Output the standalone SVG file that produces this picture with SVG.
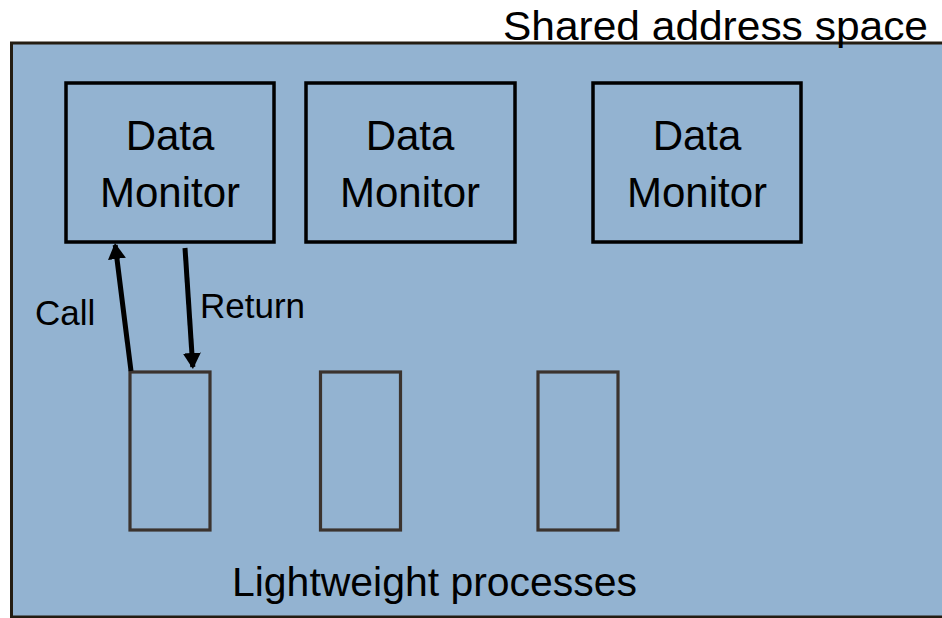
<svg xmlns="http://www.w3.org/2000/svg" width="942" height="618" viewBox="0 0 942 618">
<style>
.bg{fill:#ffffff}
.space{fill:#93b3d1;stroke:#241d12;stroke-width:3}
.mon{fill:none;stroke:#000;stroke-width:3.5}
.proc{fill:none;stroke:#3b332e;stroke-width:3.2}
.t{font-family:"Liberation Sans",Arial,sans-serif;fill:#000}
.big{font-size:40px}
.mid{font-size:42px;text-anchor:middle}
.sm{font-size:35px}
.conn{stroke:#000;stroke-width:5;fill:none}
</style>
<defs>
<marker id="ah" viewBox="0 0 16 18" refX="14" refY="9" markerWidth="16" markerHeight="18" markerUnits="userSpaceOnUse" orient="auto">
<path d="M0,0 L16,9 L0,18 Z" fill="#000"/>
</marker>
</defs>
<rect class="bg" x="0" y="0" width="942" height="618"/>
<g id="address-space">
<rect class="space" x="11.5" y="43" width="940" height="574"/>
<text class="t big" x="503" y="40" textLength="425" lengthAdjust="spacingAndGlyphs">Shared address space</text>
</g>
<g id="monitor1">
<rect class="mon" x="66" y="83" width="208" height="159"/>
<text class="t mid" x="170" y="150">Data</text>
<text class="t mid" x="170" y="207">Monitor</text>
</g>
<g id="monitor2">
<rect class="mon" x="306" y="83" width="209" height="159"/>
<text class="t mid" x="410" y="150">Data</text>
<text class="t mid" x="410" y="207">Monitor</text>
</g>
<g id="monitor3">
<rect class="mon" x="593" y="83" width="208" height="159"/>
<text class="t mid" x="697" y="150">Data</text>
<text class="t mid" x="697" y="207">Monitor</text>
</g>
<g id="process1"><rect class="proc" x="130" y="372" width="80" height="158"/></g>
<g id="process2"><rect class="proc" x="320.5" y="372" width="80" height="158"/></g>
<g id="process3"><rect class="proc" x="538" y="372" width="80" height="158"/></g>
<g id="connectors">
<line class="conn" x1="131" y1="371" x2="115.2" y2="245" marker-end="url(#ah)"/>
<text class="t sm" x="35" y="325">Call</text>
<line class="conn" x1="185" y1="248" x2="192.8" y2="367" marker-end="url(#ah)"/>
<text class="t sm" x="200" y="318">Return</text>
</g>
<text class="t big" x="232" y="596" textLength="405" lengthAdjust="spacingAndGlyphs">Lightweight processes</text>
</svg>
